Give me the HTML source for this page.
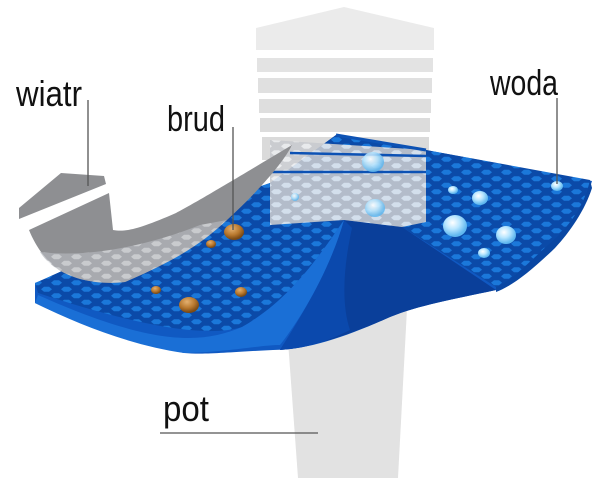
<!DOCTYPE html>
<html><head><meta charset="utf-8"><style>
html,body{margin:0;padding:0;background:#fff;}
svg{display:block}
text{font-family:"Liberation Sans Narrow","Liberation Sans",sans-serif;fill:#111;}
</style></head><body>
<svg width="609" height="503" viewBox="0 0 609 503" xmlns="http://www.w3.org/2000/svg">
<defs>
<pattern id="hex" width="20" height="13" patternUnits="userSpaceOnUse">
<rect width="20" height="13" fill="#0b4aa8"/>
<polygon points="1,3.2 4,0.7 9,0.7 12,3.2 9,5.8 4,5.8" fill="#1b78da"/>
<polygon points="11,9.7 14,7.2 19,7.2 22,9.7 19,12.3 14,12.3" fill="#1b78da"/>
<polygon points="-9,9.7 -6,7.2 -1,7.2 2,9.7 -1,12.3 -6,12.3" fill="#1b78da"/>
</pattern>
<pattern id="hexg" width="20" height="13" patternUnits="userSpaceOnUse">
<rect width="20" height="13" fill="#b3b6bc"/>
<polygon points="1,3.2 4,0.7 9,0.7 12,3.2 9,5.8 4,5.8" fill="#e2e4e8"/>
<polygon points="11,9.7 14,7.2 19,7.2 22,9.7 19,12.3 14,12.3" fill="#e2e4e8"/>
<polygon points="-9,9.7 -6,7.2 -1,7.2 2,9.7 -1,12.3 -6,12.3" fill="#e2e4e8"/>
</pattern>
<radialGradient id="drop" cx="40%" cy="35%" r="60%"><stop offset="0" stop-color="#ffffff"/><stop offset="0.5" stop-color="#b8e6ff"/><stop offset="1" stop-color="#5fb7ef"/></radialGradient>
<radialGradient id="dirt" cx="40%" cy="30%" r="65%"><stop offset="0" stop-color="#e3b070"/><stop offset="0.6" stop-color="#b8782e"/><stop offset="1" stop-color="#7b4a15"/></radialGradient>
</defs>
<polygon points="256,28 344,7 434,28 434,50 256,50" fill="#ebebeb"/>
<polygon points="257,58 433,58 433,72 257,72" fill="#e3e3e3"/>
<polygon points="258,78 432,78 432,93 258,93" fill="#e0e0e0"/>
<polygon points="259,99 431,99 431,113 259,113" fill="#dedede"/>
<polygon points="260,118 430,118 430,132 260,132" fill="#dcdcdc"/>
<polygon points="262,137 429,137 429,160 262,160" fill="#dadada"/>
<polygon points="285,300 408,290 398,478 298,478" fill="#e2e2e2"/>
<path d="M35,283 C90,260 150,225 187,210 C220,198 250,190 270,183 L336,135 L426,150 L592,181 C585,205 570,225 555,243 C530,270 510,285 496,290 C450,300 420,305 390,317 C350,335 310,350 273,350 C230,352 205,355 184,353 C120,340 70,320 35,303 Z" fill="#1059c2"/>
<path d="M35,283 C90,260 150,225 187,210 C220,198 250,190 270,183 L336,135 L426,150 L590,180 C585,205 568,228 553,240 C530,262 512,280 496,287 L402,227 L344,220 C320,255 290,300 242,327 C200,340 120,320 38,293 Z" fill="url(#hex)"/>
<path d="M590,180 L592,188 C585,210 570,232 555,248 C530,272 512,286 496,292 L496,287 C512,280 530,262 553,240 C568,228 585,205 590,180Z" fill="#0a47a3"/>
<path d="M344,220 L402,227 L496,290 C450,300 420,305 390,317 C350,335 310,348 280,350 C300,320 330,270 344,220 Z" fill="#0a3f9a"/>
<path d="M344,220 C330,270 300,318 280,350 C310,348 330,340 350,330 C340,300 345,260 352,228Z" fill="#0b49ad"/>
<path d="M344,220 C320,255 290,300 242,327 C200,345 150,345 38,295 L35,303 C80,325 130,345 184,353 C230,352 260,345 280,345 C300,320 330,270 344,220Z" fill="#1a6fd6"/>
<polygon points="270,140 426,150 426,222 402,227 344,220 270,225" fill="url(#hexg)" opacity="0.85"/>
<polygon points="270,140 426,150 426,222 402,227 344,220 270,225" fill="#fff" opacity="0.25"/>
<line x1="290" y1="153" x2="426" y2="156" stroke="#0d52b4" stroke-width="2.5"/>
<line x1="270" y1="172" x2="426" y2="172" stroke="#0d52b4" stroke-width="2.5"/>
<polyline points="336,135 426,150" stroke="#0d52b4" stroke-width="3" fill="none"/>
<polygon points="19,208 61,173 104,176 106,184 19,219" fill="#8e8f92"/>
<path d="M29,230 L109,193 L113,230 C125,232 137,230 176,213 C200,200 220,188 292,145 C285,160 260,190 227,220 C200,245 176,260 125,282 C100,285 75,280 59,270 C45,260 35,245 29,230Z" fill="#8e8f92"/>
<path d="M40,252 C90,258 150,245 200,225 L227,220 C200,245 176,260 125,282 C100,285 75,280 59,270 C50,265 44,258 40,252Z" fill="url(#hexg)" opacity="0.7"/>
<ellipse cx="234" cy="232" rx="10" ry="8" fill="url(#dirt)"/>
<ellipse cx="211" cy="244" rx="5" ry="4" fill="url(#dirt)"/>
<ellipse cx="156" cy="290" rx="5" ry="4" fill="url(#dirt)"/>
<ellipse cx="189" cy="305" rx="10" ry="8" fill="url(#dirt)"/>
<ellipse cx="241" cy="292" rx="6" ry="5" fill="url(#dirt)"/>
<ellipse cx="373" cy="162" rx="11" ry="10" fill="url(#drop)" opacity="0.85"/>
<ellipse cx="295" cy="197" rx="4" ry="4" fill="url(#drop)" opacity="0.85"/>
<ellipse cx="375" cy="208" rx="10" ry="9" fill="url(#drop)" opacity="0.85"/>
<ellipse cx="453" cy="190" rx="5" ry="4" fill="url(#drop)"/>
<ellipse cx="480" cy="198" rx="8" ry="7" fill="url(#drop)"/>
<ellipse cx="455" cy="226" rx="12" ry="11" fill="url(#drop)"/>
<ellipse cx="506" cy="235" rx="10" ry="9" fill="url(#drop)"/>
<ellipse cx="484" cy="253" rx="6" ry="5" fill="url(#drop)"/>
<ellipse cx="557" cy="186" rx="6" ry="5" fill="url(#drop)"/>
<text x="16" y="106" font-size="36" textLength="66" lengthAdjust="spacingAndGlyphs">wiatr</text>
<line x1="88" y1="100" x2="88" y2="186" stroke="#555" stroke-width="1.3"/>
<text x="167" y="131" font-size="36" textLength="58" lengthAdjust="spacingAndGlyphs">brud</text>
<line x1="233" y1="127" x2="233" y2="230" stroke="#555" stroke-width="1.3"/>
<text x="490" y="95" font-size="36" textLength="68" lengthAdjust="spacingAndGlyphs">woda</text>
<line x1="557" y1="98" x2="557" y2="184" stroke="#555" stroke-width="1.3"/>
<text x="163" y="421" font-size="36" textLength="46" lengthAdjust="spacingAndGlyphs">pot</text>
<line x1="160" y1="433" x2="318" y2="433" stroke="#555" stroke-width="1.3"/>
</svg>
</body></html>
